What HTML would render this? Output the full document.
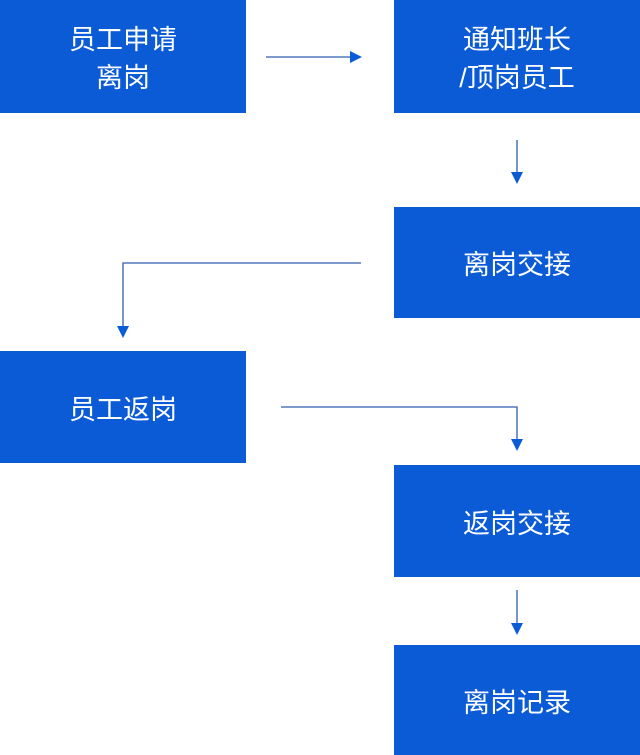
<!DOCTYPE html>
<html><head><meta charset="utf-8"><style>
body{margin:0;width:640px;height:755px;background:#fff;position:relative;overflow:hidden;font-family:"Liberation Sans","Noto Sans CJK SC",sans-serif}
.b{position:absolute;background:#0b5bd7;color:#fff;font-size:27px;line-height:38px;display:flex;align-items:center;justify-content:center;text-align:center;width:246px;box-sizing:border-box;padding-top:5px}
svg{position:absolute;left:0;top:0}
</style></head><body>
<div class="b" style="left:0;top:0;height:113px">员工申请<br>离岗</div>
<div class="b" style="left:394px;top:0;height:113px">通知班长<br>/顶岗员工</div>
<div class="b" style="left:394px;top:207px;height:111px">离岗交接</div>
<div class="b" style="left:0;top:351px;height:112px">员工返岗</div>
<div class="b" style="left:394px;top:465px;height:112px">返岗交接</div>
<div class="b" style="left:394px;top:645px;height:110px">离岗记录</div>
<svg width="640" height="755">
<g stroke="#2d5fae" stroke-width="1.3" fill="none">
<path d="M266 57H352"/>
<path d="M517 140V175"/>
<path d="M361 263H123V328"/>
<path d="M281 407H517V442"/>
<path d="M517 590V626"/>
</g>
<g fill="#0b5bd7">
<path d="M362 57L350 51V63Z"/>
<path d="M517 184L511 172H523Z"/>
<path d="M123 338L117 326H129Z"/>
<path d="M517 451L511 439H523Z"/>
<path d="M517 635L511 623H523Z"/>
</g>
</svg>
</body></html>
